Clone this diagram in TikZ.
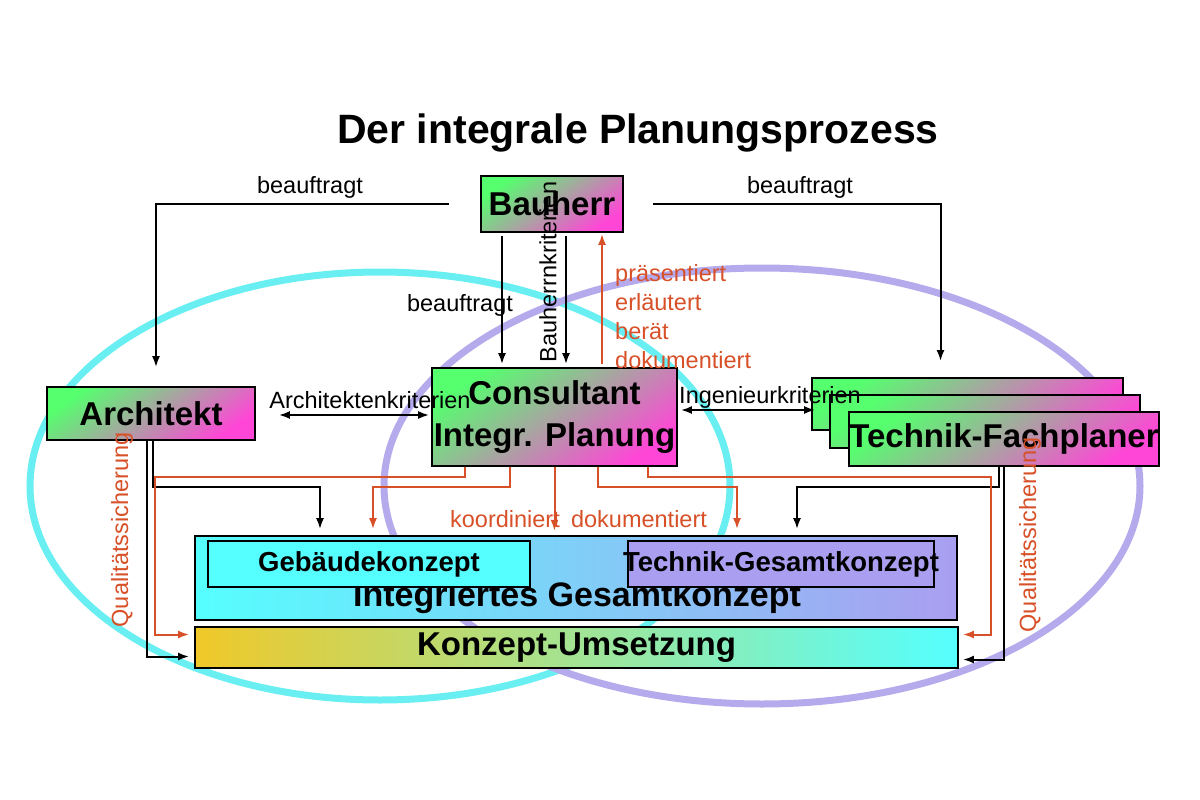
\documentclass[tikz,border=0pt]{standalone}
\usepackage{fontspec}
\setmainfont{Liberation Sans}
\usetikzlibrary{arrows.meta,calc}

\definecolor{boxgreen}{RGB}{85,255,110}
\definecolor{boxpink}{RGB}{255,70,215}
\definecolor{konzcyan}{RGB}{85,255,255}
\definecolor{konzlila}{RGB}{170,158,240}
\definecolor{konzgelb}{RGB}{240,200,40}
\definecolor{ringcyan}{RGB}{105,238,242}
\definecolor{ringlila}{RGB}{180,170,236}
\definecolor{qsorange}{RGB}{215,80,40}

\tikzstyle{akteur} = [rectangle, draw, line width=1.8pt, top color=boxgreen,
bottom color=boxpink, shading angle=35, inner sep=0pt,
font=\bfseries\fontsize{33}{42}\selectfont]
\tikzstyle{konzept} = [rectangle, draw, line width=1.8pt, inner sep=0pt,
font=\bfseries\fontsize{27.5}{30}\selectfont]
\tikzstyle{line} = [draw, line width=2pt, -{Latex[length=11pt,width=8pt]}]
\tikzstyle{line_both} = [line, {Latex[length=11pt,width=8pt]}-{Latex[length=11pt,width=8pt]}]
\tikzstyle{line_or} = [line, draw=qsorange]
\tikzstyle{txt} = [font=\fontsize{23.5}{29}\selectfont, inner sep=0pt]
\tikzstyle{txt_or} = [txt, text=qsorange]

\begin{document}
\begin{tikzpicture}[x=1pt, y=-1pt]
	\useasboundingbox (0,0) rectangle (1200,800);

	%Ringe
	\draw[ringcyan, line width=7pt] (380,486) ellipse [x radius=350, y radius=214];
	\draw[ringlila, line width=7pt] (762,486) ellipse [x radius=378, y radius=218];

	\node[font=\bfseries\fontsize{41}{45}\selectfont] (titel) at (638,133) {Der integrale Planungsprozess};

	%Nodes
	\node [akteur, minimum width=142, minimum height=56] (bauherr) at (552,204) {Bauherr};
	\node [akteur, minimum width=208, minimum height=53] (arch) at (151,413.5) {Architekt};
	\node [akteur, minimum width=245, minimum height=98, align=center] (cons) at (554.5,417) {Consultant\\Integr. Planung};

	\node [akteur, minimum width=311, minimum height=52] (tech1) at (967.5,404) {};
	\node [akteur, minimum width=310, minimum height=53] (tech2) at (985,421.5) {};
	\node [akteur, minimum width=310, minimum height=54, font=\bfseries\fontsize{33}{36}\selectfont] (tech3) at (1004,439) {\makebox[0pt]{Technik-Fachplaner}};

	\node [konzept, minimum width=762, minimum height=84, left color=konzcyan, right color=konzlila] (gesamt) at (576,578) {};
	\node [anchor=base, inner sep=0pt, font=\bfseries\fontsize{34}{36}\selectfont] (gesamttext) at (577,606) {Integriertes Gesamtkonzept};
	\node [konzept, fill=konzcyan, minimum width=322, minimum height=46] (gebaeude) at (369,564) {Gebäudekonzept};
	\node [konzept, fill=konzlila, minimum width=306, minimum height=46] (techges) at (781,564) {\makebox[0pt]{Technik-Gesamtkonzept}};
	\node [konzept, minimum width=763, minimum height=41, left color=konzgelb, right color=konzcyan, font=\bfseries\fontsize{33}{36}\selectfont] (umsetz) at (576.5,647.5) {Konzept-Umsetzung};

	%Lines
	\path [line] ([xshift=-31]bauherr.west) -| ($(arch.north)+(5,-19)$);
	\path [line] ([xshift=29]bauherr.east) -| ($(tech1.north)+(-27,-16)$);
	\path [line] ($(bauherr.south)+(-50,3)$) -- ($(cons.north)+(-52.5,-3)$);
	\path [line] ($(bauherr.south)+(14,3)$) -- ($(cons.north)+(11.5,-3)$);
	\path [line_or] ($(cons.north)+(47.5,-3)$) -- ($(bauherr.south)+(50,1)$);
	\path [line_both] ($(arch.east)+(23,1.5)$) -- ($(cons.west)+(-2,-2)$);
	\path [line_both] ($(cons.east)+(3,-7)$) -- ($(tech1.west)+(4,6)$);

	\path [line] ($(arch.south)+(-4,0)$) |- ($(umsetz.west)+(-5,9)$);
	\path [line] ($(arch.south)+(2,0)$) |- ($(gesamt.north)+(-256,-48)$) -- ($(gesamt.north)+(-256,-6)$);
	\path [line] ($(tech3.south)+(-5,0)$) |- ($(gesamt.north)+(221,-48)$) -- ($(gesamt.north)+(221,-6)$);
	\path [line] ($(tech3.south)+(0,0)$) |- ($(umsetz.east)+(4,12)$);

	\path [line_or] ($(cons.south)+(-89.5,0)$) -- ($(cons.south)+(-89.5,10)$) -| ($(umsetz.west)+(-39,-13)$) -- ($(umsetz.west)+(-5,-13)$);
	\path [line_or] ($(cons.south)+(-44.5,0)$) |- ($(gesamt.north)+(-203,-48)$) -- ($(gesamt.north)+(-203,-6)$);
	\path [line_or] (cons.south) -- ($(cons.south)+(0,64)$);
	\path [line_or] ($(cons.south)+(43.5,0)$) |- ($(gesamt.north)+(161,-48)$) -- ($(gesamt.north)+(161,-6)$);
	\path [line_or] ($(cons.south)+(93.5,0)$) -- ($(cons.south)+(93.5,10)$) -| ($(umsetz.east)+(32,-13)$) -- ($(umsetz.east)+(4,-13)$);

	%Labels
	\node [txt] (lbl_beauf_l) at (310,187) {beauftragt};
	\node [txt] (lbl_beauf_r) at (800,187) {beauftragt};
	\node [txt] (lbl_beauf_m) at (460,305) {beauftragt};
	\node [txt, rotate=90] (lbl_bhk) at (548,272) {Bauherrnkriterien};
	\node [txt_or, anchor=west, align=left] (lbl_praes) at (615,317) {präsentiert\\erläutert\\berät\\dokumentiert};
	\node [txt] (lbl_archkrit) at (370,400) {Architektenkriterien};
	\node [txt] (lbl_ingkrit) at (770,397) {Ingenieurkriterien};
	\node [txt_or] (lbl_koord) at (505,519) {koordiniert};
	\node [txt_or] (lbl_dok) at (639,519) {dokumentiert};
	\node [txt_or, rotate=90] (lbl_qs_l) at (122,530) {Qualitätssicherung};
	\node [txt_or, rotate=90] (lbl_qs_r) at (1030,535) {Qualitätssicherung};
\end{tikzpicture}
\end{document}
